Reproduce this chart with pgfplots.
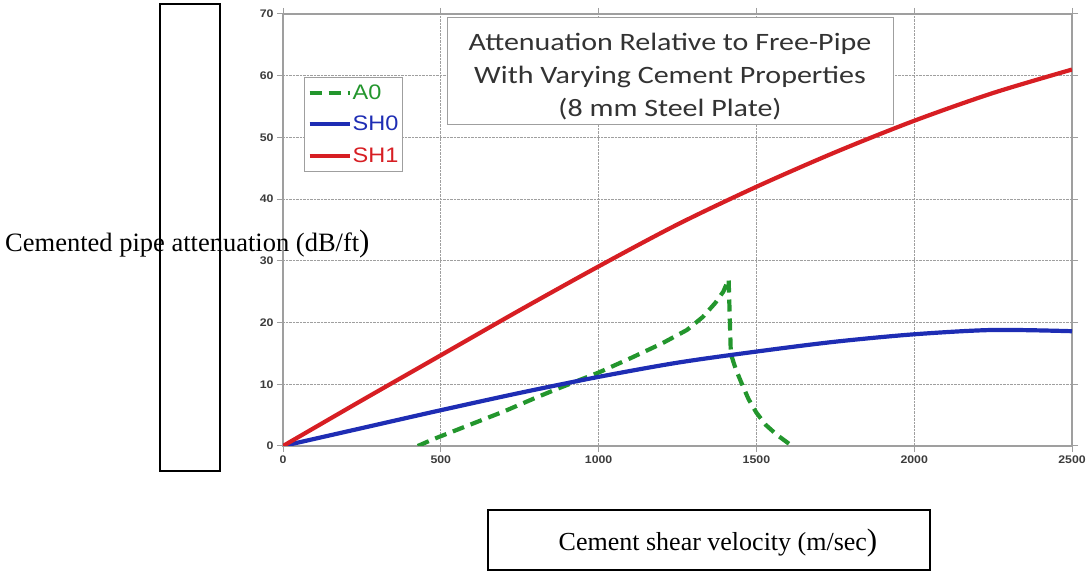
\documentclass[border=0pt]{standalone}
\usepackage{pgfplots}
\pgfplotsset{compat=1.18}
\usepackage{fontspec}
\setmainfont{Liberation Serif}
\newfontfamily\carlito[FakeStretch=1.2]{Carlito}
\newfontfamily\arial{Liberation Sans}
\newfontfamily\arialw[FakeStretch=1.12]{Liberation Sans}
\definecolor{shred}{RGB}{215,30,35}
\definecolor{shblue}{RGB}{30,45,180}
\definecolor{agreen}{RGB}{35,150,45}
\definecolor{ticktxt}{RGB}{60,60,60}
\begin{document}
\begin{tikzpicture}[x=1pt,y=1pt]
\begin{axis}[
  at={(283pt,126pt)}, anchor=south west,
  scale only axis, width=789pt, height=432pt,
  xmin=0, xmax=2500, ymin=0, ymax=70,
  xtick={0,500,1000,1500,2000,2500},
  ytick={0,10,20,30,40,50,60,70},
  grid=major,
  major grid style={gray!75, densely dotted, line width=1pt},
  axis line style={gray!75, line width=1.5pt},
  tick align=outside, major tick length=6pt,
  tick style={gray!75, line width=1pt},
  ticklabel style={font=\arialw\bfseries\fontsize{11}{13}\selectfont, text=ticktxt},
  /pgf/number format/assume math mode=true,
  /pgf/number format/1000 sep={},
  legend style={at={(0.0266,0.854)}, anchor=north west, draw=gray!75, line width=1pt,
    font=\arialw\fontsize{21}{24}\selectfont, row sep=13.5pt, inner sep=6pt, inner xsep=3pt,
    legend cell align=left, nodes={inner sep=1pt}},
  legend image code/.code={\draw[#1] (0pt,0pt) -- (40pt,0pt);},
]
\addplot[agreen, line width=4.2pt, dash pattern=on 12pt off 7pt] coordinates {
(427,0) (476,1.1) (600,3.6) (700,5.6) (800,7.8) (871,9.3) (1000,11.9) (1100,14.2) (1200,16.6) (1280,18.8) (1330,20.9) (1370,23.2) (1395,25.0) (1412,27.0) (1419,14.9) (1435,12.4) (1452,10.3) (1475,7.6) (1500,5.4) (1530,3.4) (1565,1.8) (1605,0.3) (1615,0)
};
\addlegendentry{\textcolor{agreen}{A0}}
\addplot[shblue, line width=4.2pt, smooth] coordinates {
(0,0) (250,2.9) (500,5.8) (750,8.6) (1000,11.2) (1250,13.5) (1500,15.3) (1750,16.9) (2000,18.1) (2250,18.8) (2500,18.6)
};
\addlegendentry{\textcolor{shblue}{SH0}}
\addplot[shred, line width=4.2pt, smooth] coordinates {
(0,0) (250,7.4) (500,14.7) (750,22.0) (1000,29.1) (1250,35.9) (1500,42.0) (1750,47.6) (2000,52.7) (2250,57.2) (2500,61.0)
};
\addlegendentry{\textcolor{shred}{SH1}}
\node[draw=gray!75, line width=1pt, fill=white, minimum width=446pt, minimum height=107pt]
  at (rel axis cs:0.4905,0.867) {};
\node[align=center, font=\carlito\fontsize{25}{33}\selectfont, text=black!80, yshift=-5pt]
  at (rel axis cs:0.4905,0.867) {Attenuation Relative to Free-Pipe\\With Varying Cement Properties\\(8 mm Steel Plate)};
\end{axis}
\draw[line width=2pt] (160,101) rectangle (220,568);
\node[anchor=west, inner sep=0pt, font=\fontsize{26.5}{30}\selectfont] at (5,328) {Cemented pipe attenuation (dB/ft{\fontsize{31}{31}\selectfont)}};
\draw[line width=1.5pt] (488,2) rectangle (930,62);
\node[font=\fontsize{26}{30}\selectfont] at (718,29) {Cement shear velocity (m/sec{\fontsize{31}{31}\selectfont)}};
\pgfresetboundingbox
\path[use as bounding box] (0,0) rectangle (1091,572);
\end{tikzpicture}
\end{document}
